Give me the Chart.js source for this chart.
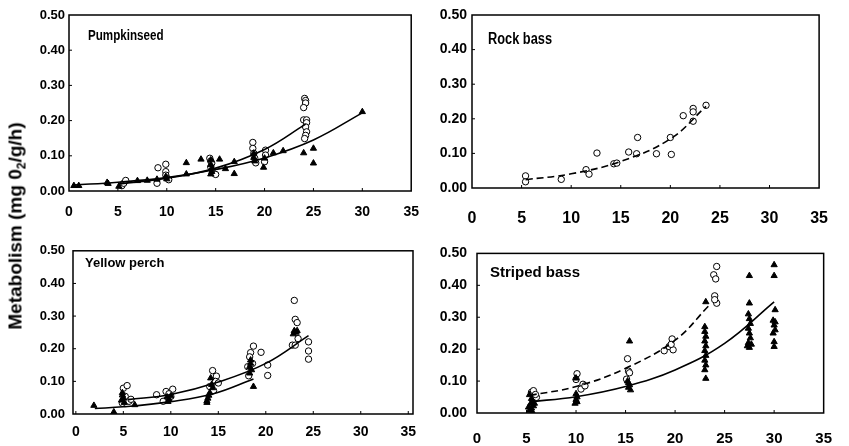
<!DOCTYPE html>
<html><head><meta charset="utf-8">
<script src="https://cdn.jsdelivr.net/npm/chart.js@4.4.1/dist/chart.umd.min.js"></script>
<style>
html,body{margin:0;padding:0;background:#fff;}
#wrap{position:relative;width:849px;height:446px;overflow:hidden;background:#fff;}
.panel{position:absolute;}
.panel canvas{display:block;}
.lbl{position:absolute;font-family:'Liberation Sans',Arial,sans-serif;font-weight:bold;color:#000;white-space:nowrap;transform-origin:left center;}
#ytitle{position:absolute;left:15px;top:226px;transform:translate(-50%,-50%) rotate(-90deg);font-family:'Liberation Sans',Arial,sans-serif;font-weight:bold;font-size:19px;white-space:nowrap;color:#000;line-height:1;}
#ytitle sub{font-size:12px;vertical-align:-4px;line-height:0;}
</style></head>
<body><div id="wrap">
<div class="panel" style="left:20px;top:0;width:412px;height:230px"><canvas id="c1" width="412" height="230"></canvas></div>
<div class="panel" style="left:432px;top:0;width:417px;height:230px"><canvas id="c2" width="417" height="230"></canvas></div>
<div class="panel" style="left:20px;top:235px;width:415px;height:211px"><canvas id="c3" width="415" height="211"></canvas></div>
<div class="panel" style="left:440px;top:235px;width:409px;height:211px"><canvas id="c4" width="409" height="211"></canvas></div>
<div class="lbl" style="left:88px;top:28px;font-size:14px;line-height:14px;transform:scaleX(0.83)">Pumpkinseed</div>
<div class="lbl" style="left:488px;top:31px;font-size:16px;line-height:16px;transform:scaleX(0.8)">Rock bass</div>
<div class="lbl" style="left:85px;top:256px;font-size:13px;line-height:13px;">Yellow perch</div>
<div class="lbl" style="left:490px;top:264px;font-size:15px;line-height:15px;">Striped bass</div>
<div id="ytitle">Metabolism (mg 0<sub>2</sub>/g/h)</div>
</div>
<script>
// ---- axis ticks ----
const xTickValues = [0, 5, 10, 15, 20, 25, 30, 35];
const xTickLabels = ['0', '5', '10', '15', '20', '25', '30', '35'];
const yTickValues = [0, 0.1, 0.2, 0.3, 0.4, 0.5];
const yTickLabels = ['0.00', '0.10', '0.20', '0.30', '0.40', '0.50'];

// ---- Pumpkinseed ----
const pumpkinTriTemp = [0.5,1.0,3.9,4.0,5.1,7.0,8.0,9.0,9.9,10.0,12.0,12.0,13.5,14.5,14.5,14.6,14.6,14.5,15.4,16.0,16.9,16.9,18.9,18.9,19.0,19.9,20.0,20.9,21.9,24.0,25.0,25.0,30.0];
const pumpkinTriMet  = [0.015,0.015,0.024,0.021,0.013,0.029,0.030,0.033,0.041,0.034,0.080,0.048,0.090,0.088,0.075,0.065,0.055,0.048,0.090,0.063,0.049,0.083,0.107,0.095,0.085,0.067,0.093,0.108,0.114,0.108,0.121,0.079,0.225];
const pumpkinCircTemp = [5.4,5.6,5.8,9.1,9.0,9.9,9.9,9.9,10.0,10.2,14.4,14.5,14.6,14.5,14.7,15.0,18.8,18.8,18.9,19.0,19.1,20.1,20.1,20.0,24.1,24.2,24.2,24.0,24.0,24.3,24.3,24.2,24.3,24.2,24.1];
const pumpkinCircMet  = [0.015,0.022,0.030,0.066,0.022,0.076,0.055,0.045,0.037,0.032,0.093,0.085,0.079,0.068,0.052,0.047,0.138,0.121,0.107,0.093,0.080,0.116,0.102,0.083,0.263,0.257,0.250,0.237,0.202,0.202,0.194,0.182,0.168,0.158,0.149];
const pumpkinFitCircTemp = [5, 10, 15, 20, 24.2];
const pumpkinFitCircMet  = [0.020, 0.036, 0.065, 0.118, 0.190];
const pumpkinFitTriTemp = [0.5, 5, 10, 15, 20, 25, 30];
const pumpkinFitTriMet  = [0.017, 0.025, 0.038, 0.061, 0.094, 0.145, 0.222];

// ---- Rock bass ----
const rockCircTemp = [5.4,5.4,9.0,11.5,11.8,12.6,14.3,14.6,15.8,16.7,16.6,18.6,20.0,20.1,21.3,22.3,22.3,22.3,23.6];
const rockCircMet  = [0.035,0.018,0.025,0.053,0.040,0.101,0.070,0.072,0.104,0.146,0.099,0.099,0.146,0.097,0.209,0.230,0.220,0.193,0.239];
const rockFitTemp = [5.4, 10, 15, 20, 23.6];
const rockFitMet  = [0.024, 0.041, 0.077, 0.142, 0.236];

// ---- Yellow perch ----
const perchTriTemp = [1.9,4.0,6.2,4.9,4.9,5.0,4.8,5.1,9.6,9.8,9.7,10.0,13.8,13.9,14.0,13.8,14.1,14.3,14.2,14.4,18.3,18.4,18.5,18.3,18.4,18.7,23.0,23.2,22.9,23.3];
const perchTriMet  = [0.026,0.006,0.028,0.065,0.058,0.050,0.042,0.035,0.052,0.045,0.038,0.055,0.040,0.048,0.057,0.035,0.065,0.090,0.110,0.080,0.145,0.155,0.135,0.125,0.165,0.084,0.255,0.250,0.245,0.255];
const perchCircTemp = [5.0,5.4,4.9,5.6,5.2,5.8,8.5,9.2,9.5,10.2,10.0,9.8,14.4,14.8,14.7,14.1,15.0,14.5,18.7,18.4,18.3,18.1,18.2,18.6,19.5,20.2,20.2,23.0,23.1,23.3,23.4,22.8,23.1,24.5,24.5,24.5];
const perchCircMet  = [0.079,0.087,0.033,0.039,0.054,0.045,0.059,0.039,0.069,0.076,0.054,0.062,0.133,0.116,0.100,0.084,0.095,0.072,0.208,0.188,0.175,0.145,0.117,0.155,0.189,0.150,0.118,0.348,0.290,0.280,0.231,0.211,0.211,0.221,0.193,0.168];
const perchFitCircTemp = [5.5, 10, 15, 20, 24.5];
const perchFitCircMet  = [0.044, 0.060, 0.098, 0.155, 0.240];
const perchFitTriTemp = [2, 5, 10, 14.5, 18.7];
const perchFitTriMet  = [0.017, 0.022, 0.038, 0.062, 0.107];

// ---- Striped bass ----
const stripedTriTemp = [5.3,5.5,5.6,5.4,5.7,5.5,5.3,5.6,5.8,5.2,10.0,10.0,10.1,10.0,10.1,9.9,15.4,15.3,15.4,15.3,15.5,15.2,23.1,23.0,23.0,23.1,23.0,23.1,23.0,23.1,23.0,23.1,23.0,23.1,27.5,27.5,27.4,27.5,27.6,27.4,27.5,27.6,27.4,27.5,27.3,27.7,30.0,30.0,30.1,29.9,30.0,30.1,29.9,30.0,30.0,30.1];
const stripedTriMet  = [0.057,0.045,0.035,0.028,0.022,0.015,0.008,0.003,0.030,0.018,0.109,0.060,0.050,0.042,0.035,0.030,0.225,0.095,0.088,0.080,0.072,0.100,0.348,0.270,0.255,0.240,0.225,0.210,0.195,0.180,0.165,0.150,0.135,0.108,0.430,0.344,0.310,0.295,0.280,0.265,0.250,0.235,0.220,0.205,0.210,0.215,0.464,0.430,0.323,0.290,0.275,0.260,0.250,0.223,0.208,0.285];
const stripedCircTemp = [5.5,5.7,6.0,5.9,10.1,10.0,10.7,10.5,10.9,15.2,15.3,15.1,15.4,18.9,19.4,19.7,19.8,19.6,24.2,23.9,24.1,24.0,24.2,24.0];
const stripedCircMet  = [0.065,0.070,0.049,0.058,0.123,0.105,0.090,0.075,0.085,0.170,0.131,0.106,0.126,0.195,0.208,0.232,0.198,0.215,0.459,0.433,0.420,0.367,0.344,0.355];
const stripedFitCircTemp = [5.3, 10, 15, 20, 23.4];
const stripedFitCircMet  = [0.055, 0.083, 0.140, 0.228, 0.336];
const stripedFitTriTemp = [5.3, 10, 15, 20, 25, 30];
const stripedFitTriMet  = [0.035, 0.051, 0.083, 0.135, 0.218, 0.348];

// ---- helpers ----
const zip = (xs, ys) => xs.map((x, i) => ({x: x, y: ys[i]}));
const SANS = "'Liberation Sans', Arial, sans-serif";

function triSet(xs, ys) {
  return {data: zip(xs, ys), showLine: false, pointStyle: 'triangle', pointRadius: 3.6,
    pointBackgroundColor: '#000', pointBorderColor: '#000', pointBorderWidth: 1};
}
function circSet(xs, ys) {
  return {data: zip(xs, ys), showLine: false, pointStyle: 'circle', pointRadius: 3.2,
    pointBackgroundColor: '#fff', pointBorderColor: '#000', pointBorderWidth: 1};
}
function fitSet(xs, ys, dashed) {
  return {data: zip(xs, ys), showLine: true, pointRadius: 0, borderColor: '#000',
    borderWidth: 1.6, borderDash: dashed ? [7, 4] : [], tension: 0.4, fill: false};
}

const boxPlugin = {
  id: 'box',
  afterDatasetsDraw(chart) {
    const {ctx, chartArea: a, scales} = chart;
    ctx.save();
    ctx.strokeStyle = '#000';
    ctx.lineWidth = 1.5;
    ctx.strokeRect(a.left, a.top, a.right - a.left, a.bottom - a.top);
    ctx.lineWidth = 1;
    ctx.beginPath();
    xTickValues.forEach(v => {
      const px = scales.x.getPixelForValue(v);
      if (px > a.left + 2 && px < a.right - 2) { ctx.moveTo(px, a.bottom); ctx.lineTo(px, a.bottom - 3); }
    });
    yTickValues.forEach(v => {
      const py = scales.y.getPixelForValue(v);
      if (py > a.top + 2 && py < a.bottom - 2) { ctx.moveTo(a.left, py); ctx.lineTo(a.left + 3, py); }
    });
    ctx.stroke();
    ctx.restore();
  }
};

function makeChart(id, datasets, p) {
  new Chart(document.getElementById(id), {
    type: 'scatter',
    data: {datasets: datasets},
    plugins: [boxPlugin],
    options: {
      responsive: false, animation: false, devicePixelRatio: 1,
      layout: {padding: {left: 0, right: p.padR, top: p.padT, bottom: 0}},
      plugins: {legend: {display: false}, tooltip: {enabled: false}},
      scales: {
        x: {
          type: 'linear', min: p.xMin, max: p.xMax,
          afterBuildTicks: s => { s.ticks = xTickValues.map(v => ({value: v})); },
          afterFit: s => { s.height = p.xH; },
          ticks: {callback: v => xTickLabels[xTickValues.indexOf(v)], padding: p.xPad, autoSkip: false, maxRotation: 0,
            color: '#000', font: {family: SANS, size: p.xSize, weight: 'bold'}},
          grid: {display: false, drawTicks: false}, border: {display: false}
        },
        y: {
          type: 'linear', min: 0, max: 0.5,
          afterBuildTicks: s => { s.ticks = yTickValues.map(v => ({value: v})); },
          afterFit: s => { s.width = p.yW; },
          ticks: {callback: v => yTickLabels[yTickValues.findIndex(t => Math.abs(t - v) < 1e-9)], padding: p.yPad, autoSkip: false,
            color: '#000', font: {family: SANS, size: p.ySize, weight: 'bold'}},
          grid: {display: false, drawTicks: false}, border: {display: false}
        }
      }
    }
  });
}

makeChart('c1', [
  fitSet(pumpkinFitTriTemp, pumpkinFitTriMet, false),
  fitSet(pumpkinFitCircTemp, pumpkinFitCircMet, false),
  triSet(pumpkinTriTemp, pumpkinTriMet),
  circSet(pumpkinCircTemp, pumpkinCircMet)
], {padR: 17, padT: 15, xH: 39, yW: 49, xMin: 0, xMax: 35, xPad: 13, yPad: 4, xSize: 14, ySize: 13});

makeChart('c2', [
  fitSet(rockFitTemp, rockFitMet, true),
  circSet(rockCircTemp, rockCircMet)
], {padR: 13, padT: 15, xH: 42, yW: 40, xMin: 0, xMax: 35, xPad: 21, yPad: 5, xSize: 16, ySize: 14});

makeChart('c3', [
  fitSet(perchFitTriTemp, perchFitTriMet, false),
  fitSet(perchFitCircTemp, perchFitCircMet, false),
  triSet(perchTriTemp, perchTriMet),
  circSet(perchCircTemp, perchCircMet)
], {padR: 22, padT: 15, xH: 32, yW: 53, xMin: -0.3, xMax: 35.5, xPad: 10, yPad: 8, xSize: 14, ySize: 13});

makeChart('c4', [
  fitSet(stripedFitTriTemp, stripedFitTriMet, false),
  fitSet(stripedFitCircTemp, stripedFitCircMet, true),
  triSet(stripedTriTemp, stripedTriMet),
  circSet(stripedCircTemp, stripedCircMet)
], {padR: 11, padT: 15, xH: 33, yW: 37, xMin: 0, xMax: 35, xPad: 17, yPad: 10, xSize: 15, ySize: 14});
</script>
</body></html>
